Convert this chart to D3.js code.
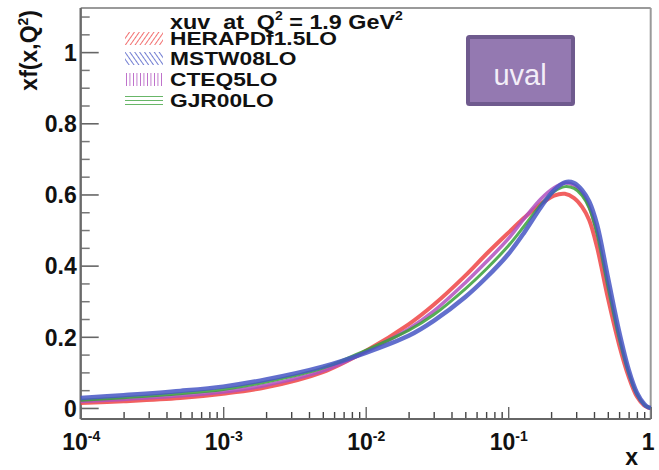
<!DOCTYPE html>
<html>
<head>
<meta charset="utf-8">
<script src="https://cdn.jsdelivr.net/npm/d3@7"></script>
<style>
  html, body { margin: 0; padding: 0; background: #fff; }
  svg { display: block; }
  text { font-family: "Liberation Sans", Arial, sans-serif; }
</style>
</head>
<body>
<div id="vizholder"></div>
<script>
// x grid (log) and xf(x,Q^2) for every PDF set
var xVals    = [1e-4, 2e-4, 5e-4, 1e-3, 2e-3, 5e-3, 1e-2, 2e-2, 3e-2, 5e-2, 0.07, 0.1, 0.13, 0.17, 0.21, 0.25, 0.29, 0.33, 0.37, 0.42, 0.5, 0.6, 0.7, 0.8, 0.9, 0.95, 1.0];
var heraVals = [0.014, 0.019, 0.028, 0.040, 0.058, 0.101, 0.160, 0.235, 0.290, 0.372, 0.432, 0.492, 0.535, 0.574, 0.597, 0.602, 0.590, 0.565, 0.528, 0.452, 0.310, 0.178, 0.088, 0.032, 0.007, 0.002, 0.0];
var mstwVals = [0.028, 0.036, 0.048, 0.060, 0.080, 0.116, 0.155, 0.203, 0.245, 0.312, 0.366, 0.432, 0.494, 0.565, 0.612, 0.634, 0.632, 0.612, 0.580, 0.515, 0.368, 0.215, 0.108, 0.043, 0.011, 0.003, 0.0];
var cteqVals = [0.018, 0.024, 0.034, 0.045, 0.064, 0.104, 0.158, 0.222, 0.272, 0.352, 0.410, 0.475, 0.533, 0.588, 0.619, 0.632, 0.626, 0.604, 0.566, 0.492, 0.345, 0.197, 0.098, 0.038, 0.009, 0.003, 0.0];
var gjrVals  = [0.022, 0.029, 0.040, 0.052, 0.073, 0.112, 0.162, 0.218, 0.262, 0.335, 0.390, 0.455, 0.512, 0.572, 0.608, 0.622, 0.617, 0.597, 0.562, 0.490, 0.343, 0.197, 0.098, 0.038, 0.009, 0.003, 0.0];

var seriesNames = ["HERAPDf1.5LO", "MSTW08LO", "CTEQ5LO", "GJR00LO"];
var yTicks = [0, 0.2, 0.4, 0.6, 0.8, 1];
var xTickExps = [-4, -3, -2, -1, 0];

var colors = { "HERAPDf1.5LO": "#ee4444", "MSTW08LO": "#4656c4", "CTEQ5LO": "#b050bf", "GJR00LO": "#38a038" };
var widths = { "HERAPDf1.5LO": 4, "MSTW08LO": 4.5, "CTEQ5LO": 3.5, "GJR00LO": 3 };
var drawOrder = [0, 2, 3, 1];

var W = 659, H = 470;
var padL = 80.7, padR = 650.7, padT = 8, padB = 419;

var svg = d3.select("#vizholder").append("svg")
    .attr("width", W).attr("height", H);

var x = d3.scaleLog().domain([1e-4, 1]).range([padL, padR]);
var y = d3.scaleLinear().domain([-0.031, 1.124]).range([padB, padT]);

// hatch patterns for the legend boxes
var defs = svg.append("defs");
function hatch(id, color, angle, gap) {
  var p = defs.append("pattern")
      .attr("id", id)
      .attr("patternUnits", "userSpaceOnUse")
      .attr("width", gap).attr("height", gap)
      .attr("patternTransform", "rotate(" + angle + ")");
  p.append("line")
      .attr("x1", 0).attr("y1", 0).attr("x2", 0).attr("y2", gap)
      .attr("stroke", color).attr("stroke-width", 1.7);
}
hatch("h0", colors["HERAPDf1.5LO"], 35, 4);
hatch("h1", colors["MSTW08LO"], -35, 4);
hatch("h2", colors["CTEQ5LO"], 0, 3.5);
hatch("h3", colors["GJR00LO"], 90, 4);

// frame
svg.append("line").attr("x1", padL).attr("x2", padR).attr("y1", padT).attr("y2", padT)
    .attr("stroke", "#9a9a9a").attr("stroke-width", 2);
svg.append("line").attr("x1", padR).attr("x2", padR).attr("y1", padT).attr("y2", padB)
    .attr("stroke", "#9a9a9a").attr("stroke-width", 2);

// y ticks (inside)
var yMinor = d3.range(0, 1.101, 0.05).filter(function(v) {
  return Math.abs(v / 0.2 - Math.round(v / 0.2)) > 1e-6;
});
svg.append("g").attr("transform", "translate(" + padL + ",0)")
    .call(d3.axisRight(y).tickValues(yMinor).tickSize(9).tickFormat(""))
    .call(function(g) { g.select(".domain").remove(); g.selectAll("line").attr("stroke", "#777").attr("stroke-width", 1.5); });
svg.append("g").attr("transform", "translate(" + padL + ",0)")
    .call(d3.axisRight(y).tickValues(yTicks).tickSize(18).tickFormat(""))
    .call(function(g) { g.select(".domain").remove(); g.selectAll("line").attr("stroke", "#666").attr("stroke-width", 1.6); });

var yLab = svg.append("g").attr("transform", "translate(" + padL + ",0)")
    .call(d3.axisLeft(y).tickValues(yTicks).tickSize(0).tickPadding(4)
      .tickFormat(function(d) { return d === 0 || d === 1 ? String(d) : d3.format(".1f")(d); }));
yLab.select(".domain").remove();
yLab.selectAll("text").attr("font-size", 23).attr("font-weight", "bold")
    .attr("fill", "#111").attr("dy", "0.36em");

// x ticks (inside, log)
var xMinor = [];
xTickExps.slice(0, -1).forEach(function(e) {
  for (var k = 2; k <= 9; k++) xMinor.push(k * Math.pow(10, e));
});
var xMajor = xTickExps.map(function(e) { return Math.pow(10, e); });
svg.append("g").attr("transform", "translate(0," + padB + ")")
    .call(d3.axisTop(x).tickValues(xMinor).tickSize(7).tickFormat(""))
    .call(function(g) { g.select(".domain").remove(); g.selectAll("line").attr("stroke", "#444").attr("stroke-width", 1.4); });
svg.append("g").attr("transform", "translate(0," + padB + ")")
    .call(d3.axisTop(x).tickValues(xMajor).tickSize(12).tickFormat(""))
    .call(function(g) { g.select(".domain").remove(); g.selectAll("line").attr("stroke", "#666").attr("stroke-width", 1.4); });

var xLab = svg.append("g").attr("transform", "translate(0," + padB + ")")
    .call(d3.axisBottom(x).tickValues(xMajor).tickSize(0).tickFormat(""));
xLab.select(".domain").remove();
xLab.selectAll(".tick text").each(function(d, i) {
  var t = d3.select(this).attr("dy", null)
      .attr("font-weight", "bold").attr("fill", "#111")
      .attr("text-anchor", "middle").attr("y", 31);
  var e = xTickExps[i];
  if (e === 0) {
    t.attr("font-size", 23).attr("x", -3).text("1");
  } else {
    t.attr("font-size", 23).attr("x", 0);
    t.append("tspan").text("10");
    t.append("tspan").attr("font-size", 14).attr("dy", -9).text(String(e));
  }
});

// axis lines
svg.append("line").attr("x1", padL).attr("x2", padR).attr("y1", padB).attr("y2", padB)
    .attr("stroke", "#666").attr("stroke-width", 2);
svg.append("line").attr("x1", padL).attr("x2", padL).attr("y1", padT).attr("y2", padB)
    .attr("stroke", "#6a6a6a").attr("stroke-width", 2.4);

// curves
var seriesVals = [heraVals, mstwVals, cteqVals, gjrVals];
var line = d3.line()
    .x(function(d) { return x(d[0]); })
    .y(function(d) { return y(d[1]); })
    .curve(d3.curveCatmullRom.alpha(0.5));

drawOrder.forEach(function(i) {
  var name = seriesNames[i];
  var pts = xVals.map(function(xv, j) { return [xv, seriesVals[i][j]]; });
  svg.append("path")
      .attr("d", line(pts))
      .attr("fill", "none")
      .attr("stroke", colors[name])
      .attr("stroke-width", widths[name])
      .attr("stroke-opacity", 0.85);
});

// title
var title = svg.append("text")
    .attr("x", 170).attr("y", 29)
    .attr("font-size", 20).attr("font-weight", "bold").attr("fill", "#111")
    .style("white-space", "pre");
title.append("tspan").text("xuv  at  Q");
title.append("tspan").attr("font-size", 12).attr("dy", -9).text("2");
title.append("tspan").attr("dy", 9).text(" = 1.9 GeV");
title.append("tspan").attr("font-size", 12).attr("dy", -9).text("2");
var tw = title.node().getComputedTextLength();
title.attr("transform", "translate(170,0) scale(" + (233 / tw) + ",1) translate(-170,0)");

// legend
var legY = [38.5, 58.5, 79.5, 100];
var leg = svg.append("g");
var sx = 1;
seriesNames.forEach(function(name, i) {
  leg.append("rect")
      .attr("x", 125).attr("y", legY[i] - 6.5)
      .attr("width", 38).attr("height", 13)
      .attr("fill", "url(#h" + i + ")")
      .attr("opacity", 0.9);
  var t = leg.append("text")
      .attr("x", 170).attr("y", legY[i] + 7)
      .attr("font-size", 18).attr("font-weight", "bold").attr("fill", "#111")
      .text(name);
  if (i === 0) sx = 167 / t.node().getComputedTextLength();
  t.attr("transform", "translate(170,0) scale(" + sx + ",1) translate(-170,0)");
});

// axis titles
svg.append("text")
    .attr("transform", "translate(37,10) rotate(-90)")
    .attr("text-anchor", "end")
    .attr("font-size", 23).attr("font-weight", "bold").attr("fill", "#111")
    .call(function(t) {
      t.append("tspan").text("xf(x,Q");
      t.append("tspan").attr("font-size", 14).attr("dy", -9).text("2");
      t.append("tspan").attr("dy", 9).text(")");
    });
svg.append("text")
    .attr("x", 638).attr("y", 465)
    .attr("text-anchor", "end")
    .attr("font-size", 23).attr("font-weight", "bold").attr("fill", "#111")
    .text("x");

// uval box
svg.append("rect")
    .attr("x", 468).attr("y", 37).attr("width", 105).attr("height", 67)
    .attr("fill", "#9479b1").attr("stroke", "#6f5a8e").attr("stroke-width", 4)
    .attr("rx", 1.5);
svg.append("text")
    .attr("x", 520).attr("y", 85)
    .attr("text-anchor", "middle")
    .attr("font-family", "'Open Sans', sans-serif")
    .attr("font-size", 29).attr("fill", "#f3eef8")
    .text("uval");
</script>
</body>
</html>
